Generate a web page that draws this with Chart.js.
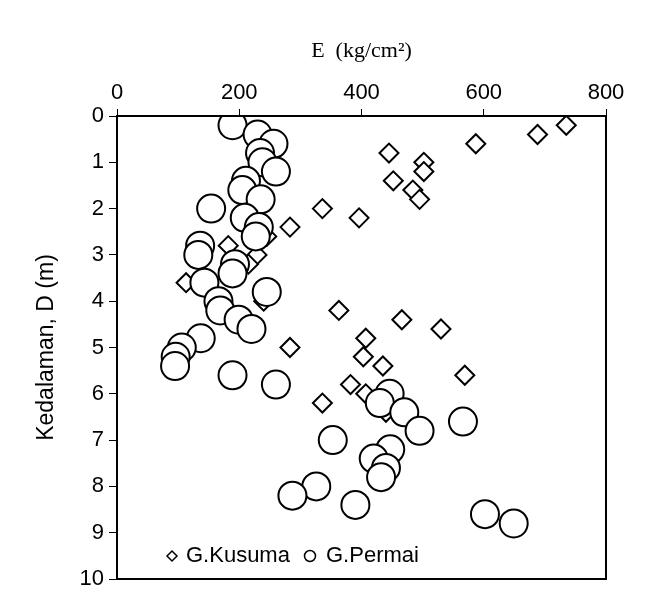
<!DOCTYPE html>
<html>
<head>
<meta charset="utf-8">
<script src="https://cdn.jsdelivr.net/npm/chart.js@4.4.1/dist/chart.umd.min.js"></script>
<style>
  html, body { margin: 0; padding: 0; background: #fff; }
  #wrap { width: 645px; height: 606px; }
</style>
</head>
<body>
<div id="wrap"><canvas id="chart"></canvas></div>
<script>
// G.Kusuma (diamonds): depth (m) and modulus E (kg/cm2)
const kusumaDepth = [0.2, 0.4, 0.6, 0.8, 1.0, 1.2, 1.4, 1.6, 1.8, 2.0, 2.2, 2.4, 2.6, 2.8, 3.0, 3.2, 3.6, 4.0, 4.2, 4.4, 4.6, 4.8, 5.0, 5.2, 5.4, 5.6, 5.8, 6.0, 6.2, 6.4];
const kusumaE = [735, 688, 587, 445, 502, 502, 452, 484, 495, 336, 396, 283, 245, 182, 229, 215, 113, 240, 363, 466, 530, 407, 283, 403, 435, 569, 382, 407, 336, 440];

// G.Permai (circles)
const permaiDepth = [0.2, 0.4, 0.6, 0.8, 1.0, 1.2, 1.4, 1.6, 1.8, 2.0, 2.2, 2.4, 2.6, 2.8, 3.0, 3.2, 3.4, 3.6, 3.8, 4.0, 4.2, 4.4, 4.6, 4.8, 5.0, 5.2, 5.4, 5.6, 5.8, 6.0, 6.2, 6.4, 6.6, 6.8, 7.0, 7.2, 7.4, 7.6, 7.8, 8.0, 8.2, 8.4, 8.6, 8.8];
const permaiE = [189, 230, 256, 234, 238, 260, 211, 205, 235, 154, 209, 232, 227, 136, 133, 193, 189, 143, 245, 166, 169, 199, 220, 137, 106, 96, 95, 189, 260, 446, 430, 470, 566, 495, 353, 447, 420, 440, 432, 326, 287, 390, 602, 649];

const xTicks = [0, 200, 400, 600, 800];
const yTicks = [0, 1, 2, 3, 4, 5, 6, 7, 8, 9, 10];
const seriesNames = ['G.Kusuma', 'G.Permai'];

function toPoints(xs, ys) {
    return xs.map((x, i) => ({ x: x, y: ys[i] }));
}

// box around the plot area plus the in-plot legend
const frameAndLegend = {
    id: 'frameAndLegend',
    afterDraw(chart) {
        const ctx = chart.ctx;
        const a = chart.chartArea;
        ctx.save();
        ctx.strokeStyle = '#000';
        ctx.lineWidth = 2;
        ctx.strokeRect(a.left, a.top, a.right - a.left, a.bottom - a.top);

        // legend
        const ly = 556;
        ctx.lineWidth = 1.5;
        ctx.fillStyle = '#fff';
        ctx.beginPath();
        ctx.moveTo(167, ly);
        ctx.lineTo(172, ly - 5);
        ctx.lineTo(177, ly);
        ctx.lineTo(172, ly + 5);
        ctx.closePath();
        ctx.fill();
        ctx.stroke();
        ctx.beginPath();
        ctx.arc(310, ly, 5.5, 0, Math.PI * 2);
        ctx.fill();
        ctx.stroke();
        ctx.fillStyle = '#000';
        ctx.font = '22px "Liberation Sans"';
        ctx.textBaseline = 'middle';
        ctx.textAlign = 'left';
        ctx.fillText(seriesNames[0], 186, ly);
        ctx.fillText(seriesNames[1], 326, ly);
        ctx.restore();
    }
};

document.addEventListener('DOMContentLoaded', function() {
    const ctx = document.getElementById('chart').getContext('2d');
    Chart.defaults.font.family = '"Liberation Sans", Arial, sans-serif';
    Chart.defaults.color = '#000';

    new Chart(ctx, {
        type: 'scatter',
        data: {
            datasets: [{
                label: seriesNames[0],
                data: toPoints(kusumaE, kusumaDepth),
                pointStyle: 'rectRot',
                pointRadius: 9.5,
                pointHoverRadius: 9.5,
                borderColor: '#000',
                backgroundColor: '#fff',
                borderWidth: 2,
                order: 2
            }, {
                label: seriesNames[1],
                data: toPoints(permaiE, permaiDepth),
                pointStyle: 'circle',
                pointRadius: 14,
                pointHoverRadius: 14,
                borderColor: '#000',
                backgroundColor: '#fff',
                borderWidth: 2,
                order: 1
            }]
        },
        options: {
            responsive: true,
            maintainAspectRatio: false,
            animation: false,
            layout: {
                padding: { left: 0, top: 0, right: 39, bottom: 27 }
            },
            plugins: {
                legend: { display: false },
                tooltip: { enabled: false }
            },
            scales: {
                x: {
                    type: 'linear',
                    position: 'top',
                    min: 0,
                    max: 800,
                    afterBuildTicks: function(scale) {
                        scale.ticks = xTicks.map(v => ({ value: v }));
                    },
                    afterFit: function(scale) {
                        scale.height = 116;
                    },
                    grid: {
                        drawOnChartArea: false,
                        drawTicks: true,
                        tickLength: 7,
                        tickColor: '#000',
                        tickWidth: 1
                    },
                    border: { display: true, color: '#000', width: 2 },
                    ticks: {
                        padding: 3,
                        font: { size: 22 },
                        maxRotation: 0
                    },
                    title: {
                        display: true,
                        text: 'E  (kg/cm²)',
                        font: { family: '"Liberation Serif", "Times New Roman", serif', size: 22 },
                        padding: { top: 38, bottom: 0 }
                    }
                },
                y: {
                    type: 'linear',
                    reverse: true,
                    min: 0,
                    max: 10,
                    afterBuildTicks: function(scale) {
                        scale.ticks = yTicks.map(v => ({ value: v }));
                    },
                    afterFit: function(scale) {
                        scale.width = 117;
                    },
                    grid: {
                        drawOnChartArea: false,
                        drawTicks: true,
                        tickLength: 8,
                        tickColor: '#000',
                        tickWidth: 1
                    },
                    border: { display: true, color: '#000', width: 2 },
                    ticks: {
                        padding: 5,
                        font: { size: 22 }
                    },
                    title: {
                        display: true,
                        text: 'Kedalaman, D (m)',
                        font: { size: 23 },
                        padding: { top: 33, bottom: 0 }
                    }
                }
            }
        },
        plugins: [frameAndLegend]
    });
});
</script>
</body>
</html>
